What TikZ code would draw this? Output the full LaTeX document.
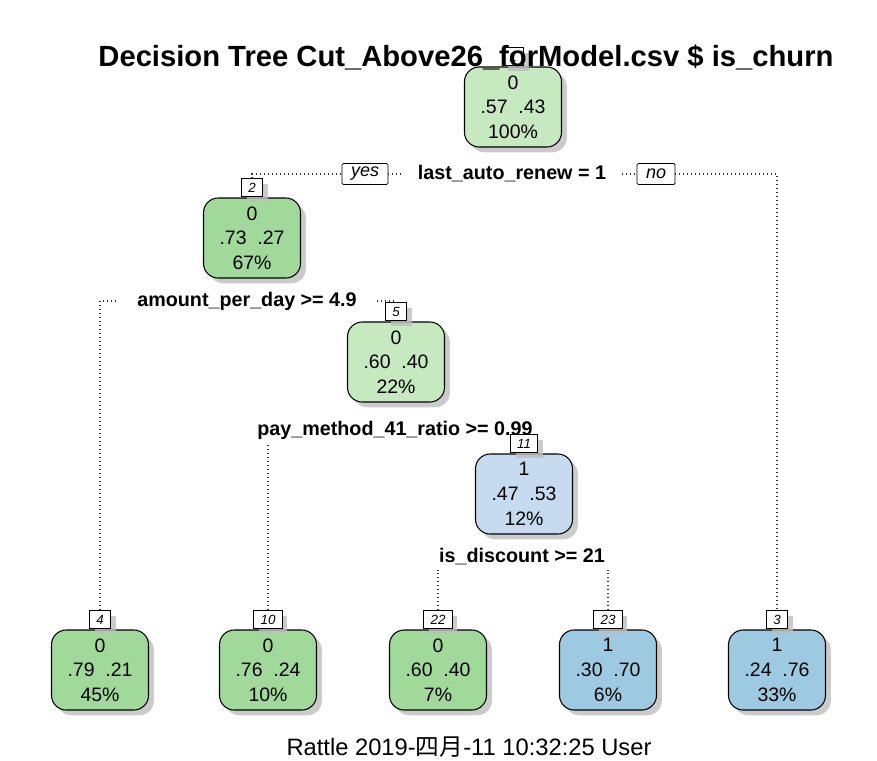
\documentclass[tikz,border=0pt]{standalone}
\usepackage{fontspec}
\setmainfont{Liberation Sans}
\newfontfamily\cjkfont{Noto Sans CJK SC}
\usepackage{tikz}
\usetikzlibrary{positioning, shadows}
\usepackage{xcolor}
\definecolor{greenlight}{RGB}{199, 233, 192}
\definecolor{greenmid}{RGB}{161, 217, 155}
\definecolor{bluelight}{RGB}{198, 219, 239}
\definecolor{bluemid}{RGB}{158, 202, 225}
\definecolor{shadowgray}{RGB}{190, 190, 190}

\tikzset{
  treebox/.style={draw, line width=0.8pt, rounded corners=11pt,
    minimum width=72.75pt, minimum height=60pt, inner sep=0pt, align=center,
    font=\fontsize{14.6}{18.5}\selectfont,
    drop shadow={shadow xshift=4pt, shadow yshift=-4pt, fill=shadowgray, opacity=0.8}},
  numbox/.style={draw, fill=white, line width=0.8pt, inner xsep=5pt, inner ysep=0pt,
    minimum height=13.5pt, font=\fontsize{10}{11}\selectfont\itshape,
    drop shadow={shadow xshift=4pt, shadow yshift=-4pt, fill=shadowgray, opacity=0.8}},
  splitlabel/.style={fill=white, inner ysep=3pt,
    font=\fontsize{14.8}{18}\selectfont\bfseries},
  yesno/.style={draw, fill=white, line width=0.6pt, rounded corners=1pt,
    inner xsep=6.75pt, inner ysep=0pt, minimum height=15.75pt,
    font=\fontsize{13.5}{15}\selectfont\itshape},
  branch/.style={line width=0.8pt, black!80, dash pattern=on 0.8pt off 2.2pt}
}

\begin{document}
\begin{tikzpicture}[x=0.75pt, y=-0.75pt]
  \useasboundingbox (0,0) rectangle (877,760);

  % Root node
  \node[treebox, fill=greenlight] (n1) at (513,107) {0\\.57~~.43\\100\%};
  \node[numbox, above=0pt of n1] (lbl1) {1};

  % Inner nodes
  \node[treebox, fill=greenmid] (n2) at (252,238) {0\\.73~~.27\\67\%};
  \node[numbox, above=0pt of n2] (lbl2) {2};
  \node[treebox, fill=greenlight] (n5) at (396,362) {0\\.60~~.40\\22\%};
  \node[numbox, above=0pt of n5] (lbl5) {5};
  \node[treebox, fill=bluelight] (n11) at (524,494) {1\\.47~~.53\\12\%};

  % Leaves
  \node[treebox, fill=greenmid] (n4) at (100,670) {0\\.79~~.21\\45\%};
  \node[numbox, above=0pt of n4] (lbl4) {4};
  \node[treebox, fill=greenmid] (n10) at (268,670) {0\\.76~~.24\\10\%};
  \node[numbox, above=0pt of n10] (lbl10) {10};
  \node[treebox, fill=greenmid] (n22) at (438,670) {0\\.60~~.40\\7\%};
  \node[numbox, above=0pt of n22] (lbl22) {22};
  \node[treebox, fill=bluemid] (n23) at (608,670) {1\\.30~~.70\\6\%};
  \node[numbox, above=0pt of n23] (lbl23) {23};
  \node[treebox, fill=bluemid] (n3) at (777,670) {1\\.24~~.76\\33\%};
  \node[numbox, above=0pt of n3] (lbl3) {3};

  % Split labels
  \node[splitlabel, inner xsep=12pt] (split1) at (512,174) {last\_auto\_renew = 1};
  \node[yesno] (yes) at (365,174) {yes};
  \node[yesno] (no) at (656,174) {no};
  \node[splitlabel, inner xsep=15pt] (split2) at (247,301) {amount\_per\_day >= 4.9};
  \node[splitlabel, inner xsep=2pt] (split3) at (395,430) {pay\_method\_41\_ratio >= 0.99};
  \node[numbox, above=0pt of n11] (lbl11) {11};
  \node[splitlabel, inner xsep=2pt] (split4) at (522,557) {is\_discount >= 21};

  % Branches
  \draw[branch] (lbl2.north) |- (yes.west);
  \draw[branch] (yes.east) -- (split1.west);
  \draw[branch] (split1.east) -- (no.west);
  \draw[branch] (no.east) -| (lbl3.north);
  \draw[branch] (lbl4.north) |- (split2.west);
  \draw[branch] (split2.east) -| (lbl5.north);
  \draw[branch] (lbl10.north) -- (lbl10.north |- split3.south);
  \draw[branch] (lbl22.north) -- (lbl22.north |- split4.south);
  \draw[branch] (lbl23.north) -- (lbl23.north |- split4.south);

  % Title and footer
  \node[font=\fontsize{21.9}{26}\selectfont\bfseries] (title) at (466,57)
    {Decision Tree Cut\_Above26\_forModel.csv \$ is\_churn};
  \node[font=\fontsize{17.8}{20}\selectfont] (footer) at (469,747)
    {Rattle 2019-{\cjkfont 四月}-11 10:32:25 User};

\end{tikzpicture}
\end{document}
